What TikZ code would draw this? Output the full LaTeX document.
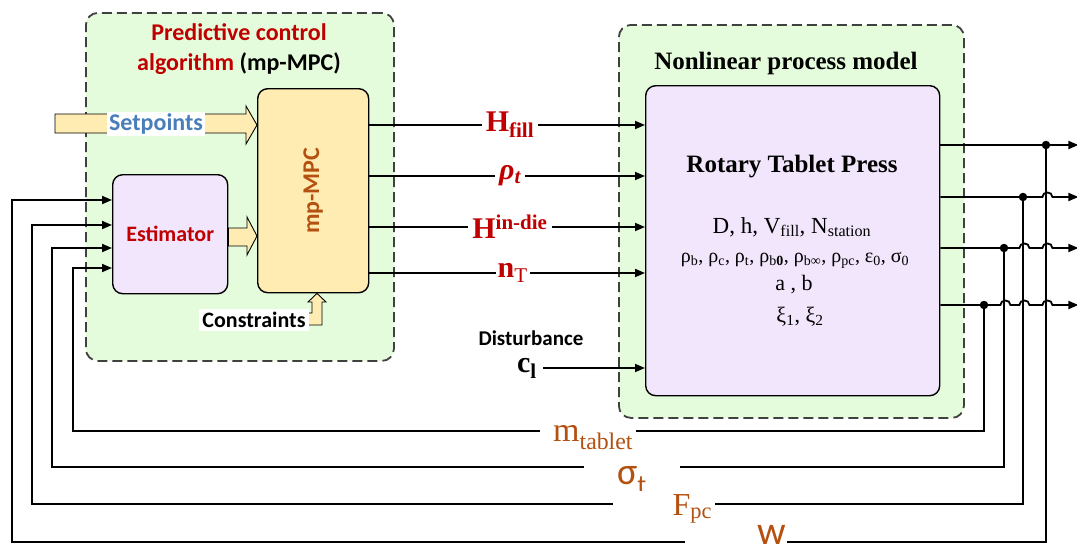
\documentclass[tikz,border=0pt]{standalone}
\usepackage{fontspec}
\setmainfont{Liberation Serif}
\newfontfamily\calfont{Carlito}
\usetikzlibrary{arrows.meta,positioning}

\definecolor{grpgreen}{RGB}{229,252,220}
\definecolor{boxlilac}{RGB}{242,230,252}
\definecolor{boxyellow}{RGB}{255,236,179}
\definecolor{ctrlred}{RGB}{192,0,0}
\definecolor{outbrown}{RGB}{180,80,16}
\definecolor{spblue}{RGB}{74,126,187}

\tikzset{
  grp/.style={draw=black!75, line width=1.8pt, dash pattern=on 10pt off 5pt,
    fill=grpgreen, rounded corners=12pt, anchor=north west},
  blk/.style={draw, line width=1.4pt, rounded corners=10pt, anchor=north west},
  fat/.style={draw, line width=0.9pt, fill=boxyellow, line join=miter},
  sig/.style={line width=1.8pt, -{Triangle[length=10pt,width=8pt]}},
  siglbl/.style={fill=white, inner sep=4pt, text=ctrlred,
    font=\bfseries\fontsize{30}{34}\selectfont},
  outlbl/.style={fill=white, inner sep=3pt, text=outbrown},
  dot/.style={circle, fill, inner sep=0pt, minimum size=8.5pt},
  calib/.style={font=\calfont\bfseries\fontsize{#1}{#1}\selectfont},
}

\begin{document}
\begin{tikzpicture}[x=1pt, y=-1pt]
    \useasboundingbox (0,0) rectangle (1077,554);

    % groups
    \node[grp, minimum width=308pt, minimum height=348pt] (ctrlgrp) at (85,12) {};
    \node[grp, minimum width=345pt, minimum height=393pt] (plantgrp) at (618,24) {};

    \node[align=center, text=ctrlred, font=\calfont\bfseries\fontsize{24}{30}\selectfont]
        (ctrltitle) at (239,49) {Predictive control\\algorithm \textcolor{black}{(mp-MPC)}};
    \node[font=\bfseries\fontsize{25}{30}\selectfont] (planttitle) at (786,63) {Nonlinear process model};

    % blocks
    \node[blk, fill=boxyellow, minimum width=111pt, minimum height=204pt] (mpc) at (257,88) {};
    \node[calib=24, rotate=90, text=outbrown] (mpclbl) at (mpc.center) {mp-MPC};
    \node[blk, fill=boxlilac, minimum width=115pt, minimum height=119pt, calib=22, text=ctrlred]
        (est) at (112,174) {Estimator};
    \node[blk, fill=boxlilac, minimum width=294pt, minimum height=310pt] (rtp) at (645,85) {};

    \node[font=\bfseries\fontsize{25}{30}\selectfont] (rtptitle) at (792,167) {Rotary Tablet Press};
    \node[font=\fontsize{23}{28}\selectfont] (par1) at (792,227) {D, h, V\textsubscript{fill}, N\textsubscript{station}};
    \node[font=\fontsize{20}{24}\selectfont] (par2) at (795,260)
        {ρ\textsubscript{b}, ρ\textsubscript{c}, ρ\textsubscript{t}, ρ\textsubscript{b\textbf{0}}, ρ\textsubscript{b∞}, ρ\textsubscript{pc}, ε\textsubscript{0}, σ\textsubscript{0}};
    \node[font=\fontsize{22}{26}\selectfont] (par3) at (794,285) {a , b};
    \node[font=\fontsize{22}{26}\selectfont] (par4) at (800,317) {ξ\textsubscript{1}, ξ\textsubscript{2}};

    % block arrows
    \draw[fat] (55,114) -- (246,114) -- (246,106) -- (mpc.west |- 0,125) -- (246,144) -- (246,133) -- (55,133) -- cycle;
    \node[calib=24, fill=white, inner sep=2pt, text=spblue] (setpt) at (156,124) {Setpoints};
    \draw[fat] (est.east |- 0,228) -- (247,228) -- (247,217) -- (mpc.west |- 0,236) -- (247,255) -- (247,246) -- (est.east |- 0,246) -- cycle;
    \draw[fat] (305,313) -- (312,313) -- (312,302) -- (308,302) -- (mpc.south -| 317,0) -- (326,302) -- (322,302) -- (322,325) -- (305,325) -- cycle;
    \node[calib=22, fill=white, inner sep=3pt] (constr) at (254,320) {Constraints};

    % manipulated inputs
    \draw[sig] (mpc.east |- 0,125) -- (rtp.west |- 0,125) node[siglbl, pos=0.51] (hfill) {H\textsubscript{fill}};
    \draw[sig] (mpc.east |- 0,176) -- (rtp.west |- 0,176) node[siglbl, pos=0.51] (rhot) {\textit{ρ\textsubscript{t}}};
    \draw[sig] (mpc.east |- 0,227) -- (rtp.west |- 0,227) node[siglbl, pos=0.51] (hdie) {H\textsuperscript{in-die}};
    \draw[sig] (mpc.east |- 0,273) -- (rtp.west |- 0,273) node[siglbl, pos=0.52, inner sep=2pt] (nt) {n\textsubscript{\mdseries T}};

    % disturbance
    \node[calib=21] (dist) at (531,338) {Disturbance};
    \node[font=\bfseries\fontsize{30}{34}\selectfont, inner sep=6pt] (cl) at (527,368) {c\textsubscript{l}};
    \draw[sig] (cl.east) -- (cl.east -| rtp.west);

    % measured outputs
    \draw[sig] (rtp.east |- 0,145) -- ++(138,0);
    \draw[sig] (rtp.east |- 0,197) -- ++(102,0) .. controls +(0,-6) and +(0,-6) .. ++(10,0) -- ++(26,0);
    \draw[sig] (rtp.east |- 0,248) -- ++(79,0) .. controls +(0,-6) and +(0,-6) .. ++(10,0)
        -- ++(13,0) .. controls +(0,-6) and +(0,-6) .. ++(10,0) -- ++(26,0);
    \draw[sig] (rtp.east |- 0,305) -- ++(60,0) .. controls +(0,-6) and +(0,-6) .. ++(10,0)
        -- ++(9,0) .. controls +(0,-6) and +(0,-6) .. ++(10,0)
        -- ++(13,0) .. controls +(0,-6) and +(0,-6) .. ++(10,0) -- ++(26,0);

    % feedback to estimator
    \foreach \xr/\yo/\yb/\xl/\yi in {1046/145/542/12/200, 1023/197/504/32/225, 1004/248/467/52/248, 984/305/431/73/268} {
        \node[dot] (j\yo) at (\xr,\yo) {};
        \draw[sig] (j\yo.center) -- (\xr,\yb) -- (\xl,\yb) -- (\xl,\yi) -- (est.west |- 0,\yi);
    }

    \node[outlbl, font=\fontsize{34}{36}\selectfont, text width=90pt, align=right] (mtab) at (588,438) {m\textsubscript{tablet}};
    \node[outlbl, font=\calfont\fontsize{38}{38}\selectfont, minimum width=96pt] (sigt) at (632,480) {σ\textsubscript{t}};
    \node[outlbl, font=\fontsize{32}{34}\selectfont, text width=96pt, align=right] (fpc) at (664,509) {F\textsubscript{pc}};
    \node[outlbl, font=\calfont\fontsize{40}{40}\selectfont, text width=100pt, align=right, inner sep=1pt] (wout) at (736,535) {w};
\end{tikzpicture}
\end{document}
